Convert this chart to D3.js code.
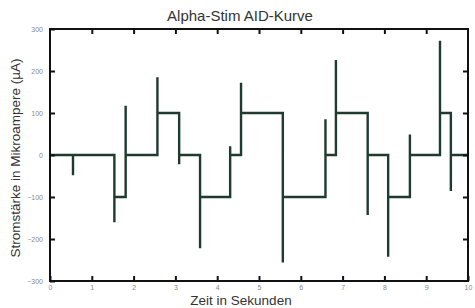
<!DOCTYPE html>
<html>
<head>
<meta charset="utf-8">
<script src="https://cdn.jsdelivr.net/npm/d3@7"></script>
<style>
  body { margin: 0; background: #fff; }
  svg { display: block; font-family: "Liberation Sans", Arial, sans-serif; }
</style>
</head>
<body>
<svg id="chart" width="475" height="308"></svg>
<script>
// step transitions of the AID waveform (seconds)
var stepTimes  = [0.55, 1.54, 1.81, 2.57, 3.09, 3.59, 4.31, 4.57, 5.57, 6.59, 6.84, 7.60, 8.09, 8.61, 9.33, 9.59];
// level after each transition (µA)
var stepLevels = [0, -100, 0, 100, 0, -100, 0, 100, -100, 0, 100, 0, -100, 0, 100, 0];
// peak of the spike at each transition (µA)
var spikePeaks = [-48, -160, 117, 185, -22, -222, 21, 172, -256, 85, 226, -143, -242, 49, 272, -86];
var xTicks = [0, 1, 2, 3, 4, 5, 6, 7, 8, 9, 10];
var yTicks = [-300, -200, -100, 0, 100, 200, 300];

var W = 475, H = 308;
var margin = {top: 29, right: 7, bottom: 27, left: 50};

var svg = d3.select("#chart");

var x = d3.scaleLinear().domain([0, 10]).range([margin.left, W - margin.right]);
var y = d3.scaleLinear().domain([-300, 300]).range([H - margin.bottom, margin.top]);

// build the polyline: previous level -> spike -> new level
var pts = [[0, 0]];
var prev = 0;
stepTimes.forEach(function(t, i){
	pts.push([t, prev]);
	pts.push([t, spikePeaks[i]]);
	pts.push([t, stepLevels[i]]);
	prev = stepLevels[i];
});
pts.push([10, prev]);

var line = d3.line()
	.x(function(d){ return x(d[0]); })
	.y(function(d){ return y(d[1]); });

svg.append("path")
	.attr("d", line(pts))
	.attr("fill", "none")
	.attr("stroke", "#1f3b2f")
	.attr("stroke-width", 2.4)
	.attr("stroke-linejoin", "miter");

// inward ticks on all four sides
var tickLen = 5;
var axisStyle = function(g){
	g.select(".domain").remove();
	g.selectAll(".tick line").attr("stroke", "#111").attr("stroke-width", 2);
	g.selectAll(".tick text").attr("fill", "#888").attr("font-size", 7);
};

svg.append("g")
	.attr("transform", "translate(0," + y(-300) + ")")
	.call(d3.axisBottom(x).tickValues(xTicks).tickSize(-tickLen).tickPadding(4).tickFormat(d3.format("d")))
	.call(axisStyle);

svg.append("g")
	.attr("transform", "translate(0," + y(300) + ")")
	.call(d3.axisTop(x).tickValues(xTicks.slice(1, -1)).tickSize(-tickLen).tickFormat(""))
	.call(axisStyle);

svg.append("g")
	.attr("transform", "translate(" + x(0) + ",0)")
	.call(d3.axisLeft(y).tickValues(yTicks).tickSize(-tickLen).tickPadding(7).tickFormat(d3.format("d")))
	.call(axisStyle);

svg.append("g")
	.attr("transform", "translate(" + x(10) + ",0)")
	.call(d3.axisRight(y).tickValues(yTicks.slice(1, -1)).tickSize(-tickLen).tickFormat(""))
	.call(axisStyle);

// frame
svg.append("rect")
	.attr("x", x(0))
	.attr("y", y(300))
	.attr("width", x(10) - x(0))
	.attr("height", y(-300) - y(300))
	.attr("fill", "none")
	.attr("stroke", "#111")
	.attr("stroke-width", 2);

// titles
svg.append("text")
	.attr("x", 240)
	.attr("y", 21)
	.attr("text-anchor", "middle")
	.attr("font-size", 15)
	.attr("fill", "#333")
	.text("Alpha-Stim AID-Kurve");

svg.append("text")
	.attr("x", 241)
	.attr("y", 305)
	.attr("text-anchor", "middle")
	.attr("font-size", 13.5)
	.attr("fill", "#333")
	.text("Zeit in Sekunden");

svg.append("text")
	.attr("transform", "translate(20,158) rotate(-90)")
	.attr("text-anchor", "middle")
	.attr("font-size", 13.5)
	.attr("fill", "#333")
	.text("Stromstärke in Mikroampere (µA)");
</script>
</body>
</html>
